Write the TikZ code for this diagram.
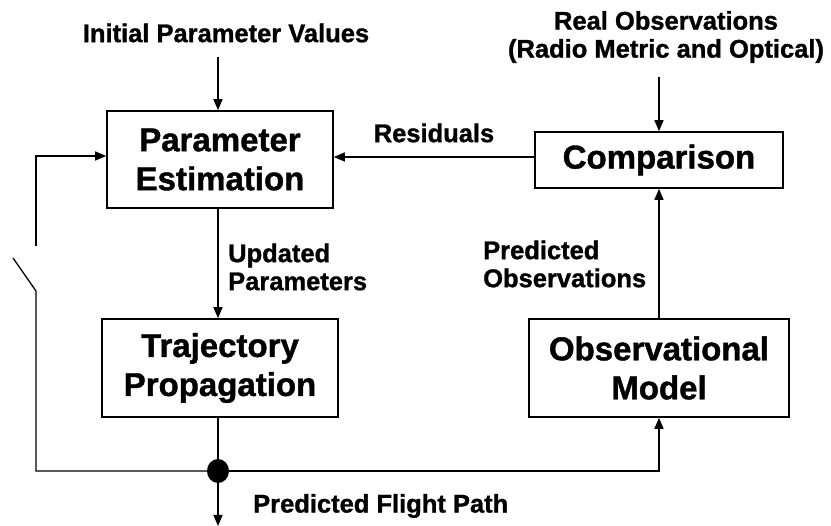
\documentclass[tikz,border=0pt]{standalone}
\usepackage{fontspec}
\setmainfont{Liberation Sans}[BoldFeatures={FakeBold=1.2}]
\usetikzlibrary{arrows.meta}
\tikzset{
  blk/.style={draw, line width=1.6pt, align=center, inner sep=0pt,
    font=\fontsize{33}{39}\selectfont\bfseries},
  lbl/.style={inner sep=0pt, font=\fontsize{25.5}{28}\selectfont\bfseries},
  conn/.style={line width=1.3pt, -{Triangle[length=11pt,width=9pt]}},
  wire/.style={line width=1.3pt}
}
\begin{document}
\begin{tikzpicture}[x=1pt,y=-1pt]
\useasboundingbox (0,0) rectangle (831,526);
\node[blk, minimum width=226pt, minimum height=97pt] (pe) at (220,159.5) {Parameter\\Estimation};
\node[blk, minimum width=236pt, minimum height=98pt] (tp) at (220,368) {Trajectory\\Propagation};
\node[blk, minimum width=248pt, minimum height=56pt] (cmp) at (659,160) {Comparison};
\node[blk, minimum width=260pt, minimum height=98pt] (om) at (659,368) {Observational\\Model};
\node[lbl] (ipv) at (226,33) {Initial Parameter Values};
\node[lbl, align=center] (ro) at (666,37) {Real Observations\\(Radio Metric and Optical)};
\node[lbl] (res) at (434,133) {Residuals};
\node[lbl, align=left, anchor=west] (up) at (228,267) {Updated\\Parameters};
\node[lbl, align=left, anchor=west] (po) at (483,264) {Predicted\\Observations};
\node[lbl, anchor=west] (pfp) at (253,506) {Predicted Flight Path};
\coordinate (ipvend) at (218,57);
\coordinate (roend) at (659,77);
\coordinate (dot) at (218,471);
\coordinate (sw1) at (36,246);
\coordinate (sw2) at (13,258);
\coordinate (sw3) at (36,291);
\coordinate (bl) at (36,471);
\coordinate (out) at (218,526);
\draw[conn] (ipvend) -- (ipvend |- pe.north);
\draw[conn] (roend) -- (roend |- cmp.north);
\draw[conn] (cmp.west |- 0,157) -- (pe.east |- 0,157);
\draw[conn] (pe.south -| dot) -- (tp.north -| dot);
\draw[conn] (om.north -| roend) -- (cmp.south -| roend);
\draw[conn] (sw1) -- (36,156) -- (pe.west |- 0,156);
\draw[wire] (sw2) -- (sw3) -- (bl) -- (dot);
\draw[conn] (tp.south -| dot) -- (dot) -- (dot -| om) -- (om.south);
\draw[conn] (dot) -- (out);
\fill (dot) circle[x radius=11pt, y radius=12pt];
\end{tikzpicture}
\end{document}
